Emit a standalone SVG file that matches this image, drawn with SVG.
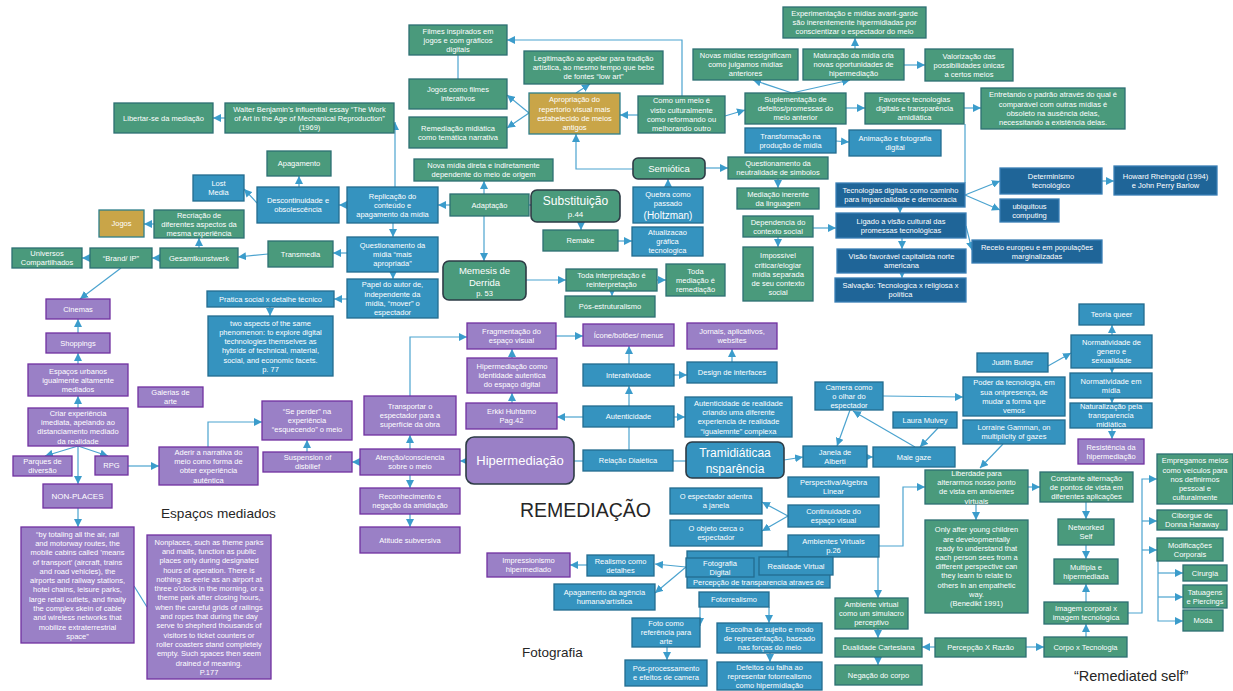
<svg xmlns="http://www.w3.org/2000/svg" width="1233" height="691" viewBox="0 0 1233 691">
<style>
rect{stroke-width:1.3}
.g rect{fill:#4a9a7c;stroke:#2c6f72}
.b rect{fill:#3593bf;stroke:#236c8f}
.d rect{fill:#1f6598;stroke:#3a7fb5}
.p rect{fill:#9a80c6;stroke:#7030a0}
.y rect{fill:#c9a548;stroke:#2e7f8a}
.r rect{stroke:#2d3b45;stroke-width:1.6}
text{font-family:"Liberation Sans",Arial,sans-serif;font-size:7.5px;fill:#fff;text-anchor:middle}
.lbl{fill:#262626;text-anchor:start}
#conn path{fill:none;stroke:#4ba3cf;stroke-width:1.2}
#conn .a{marker-end:url(#ah)}
</style>
<defs>
<marker id="ah" viewBox="0 0 10 10" refX="10" refY="5" markerWidth="8" markerHeight="8" markerUnits="userSpaceOnUse" orient="auto"><path d="M0,0 L10,5 L0,10 z" fill="#3b9ccb"/></marker>
</defs>
<rect width="1233" height="691" fill="#fff"/>

<g id="conn">
<path class="a" d="M225,118 L213,118"/>
<path class="a" d="M395,187 L395,122"/>
<path class="a" d="M347,205 L339,205"/>
<path class="a" d="M257,203 L244,189"/>
<path class="a" d="M299,187 L299,176"/>
<path class="a" d="M154,224 L144,224"/>
<path class="a" d="M199,248 L199,238"/>
<path class="a" d="M268,254 L238,257"/>
<path class="a" d="M160,258 L152,258"/>
<path class="a" d="M90,258 L82,258"/>
<path class="a" d="M121,268 L80,299"/>
<path class="a" d="M78,333 L78,319"/>
<path class="a" d="M78,364 L78,353"/>
<path class="a" d="M78,408 L78,396"/>
<path class="a" d="M78,446 L45,456"/>
<path class="a" d="M78,446 L108,456"/>
<path class="a" d="M78,446 L78,484"/>
<path class="a" d="M78,508 L78,527"/>
<path d="M134,586 L147,607"/>
<path class="a" d="M128,466 L159,466"/>
<path class="a" d="M208,447 L208,422 L262,422"/>
<path class="a" d="M307,452 L307,440"/>
<path class="a" d="M360,462 L352,462"/>
<path class="a" d="M466,461 L460,461"/>
<path class="a" d="M410,449 L410,435"/>
<path class="a" d="M410,475 L410,488"/>
<path class="a" d="M410,514 L410,527"/>
<path class="a" d="M410,396 L410,337 L467,337"/>
<path class="a" d="M556,336 L583,336"/>
<path class="a" d="M512,358 L512,349"/>
<path class="a" d="M512,403 L512,393"/>
<path class="a" d="M583,417 L557,417"/>
<path class="a" d="M629,406 L629,386"/>
<path class="a" d="M629,364 L629,346"/>
<path class="a" d="M674,375 L687,375"/>
<path class="a" d="M732,362 L732,349"/>
<path class="a" d="M674,417 L685,417"/>
<path d="M629,427 L629,450"/>
<path d="M574,461 L583,461"/>
<path d="M673,461 L686,461"/>
<path class="a" d="M784,460 L803,457"/>
<path class="a" d="M867,457 L873,457"/>
<path class="a" d="M850,410 L837,446"/>
<path class="a" d="M915,447 L853,411"/>
<path class="a" d="M938,428 L920,447"/>
<path class="a" d="M883,396 L963,397"/>
<path class="a" d="M1048,366 L1071,353"/>
<path class="a" d="M1112,335 L1112,325"/>
<path class="a" d="M1112,368 L1112,373"/>
<path class="a" d="M1112,398 L1112,403"/>
<path class="a" d="M1112,428 L1112,439"/>
<path class="a" d="M1003,444 L980,468"/>
<path class="a" d="M788,516 L762,502"/>
<path class="a" d="M788,516 L762,531"/>
<path class="a" d="M879,546 L903,546 L903,487 L925,487"/>
<path class="a" d="M878,557 L878,598"/>
<path class="a" d="M878,629 L878,638"/>
<path class="a" d="M878,657 L878,665"/>
<path class="a" d="M935,647 L922,647"/>
<path class="a" d="M1026,647 L1044,647"/>
<path class="a" d="M1086,637 L1086,624"/>
<path class="a" d="M1086,602 L1086,584"/>
<path class="a" d="M1086,545 L1086,559"/>
<path class="a" d="M1086,502 L1086,519"/>
<path class="a" d="M1028,487 L1040,487"/>
<path class="a" d="M976,504 L976,520"/>
<path class="a" d="M1128,613 L1142,613 L1142,479 L1157,479"/>
<path class="a" d="M1142,521 L1157,521"/>
<path class="a" d="M1142,550 L1157,550"/>
<path class="a" d="M1158,561 L1158,621 L1183,621"/>
<path class="a" d="M1158,573 L1183,573"/>
<path class="a" d="M1158,597 L1183,597"/>
<path class="a" d="M686,567 L655,564"/>
<path class="a" d="M686,567 L655,593"/>
<path class="a" d="M587,565 L570,565"/>
<path class="a" d="M700,607 L700,626"/>
<path class="a" d="M769,607 L769,623"/>
<path class="a" d="M667,647 L667,660"/>
<path class="a" d="M770,653 L770,662"/>
<path class="a" d="M526,280 L566,280"/>
<path class="a" d="M657,280 L666,280"/>
<path class="a" d="M612,291 L612,296"/>
<path class="a" d="M618,241 L632,241"/>
<path class="a" d="M581,222 L581,230"/>
<path class="a" d="M540,205 L529,205"/>
<path class="a" d="M450,205 L438,205"/>
<path class="a" d="M484,194 L484,181"/>
<path class="a" d="M484,216 L484,261"/>
<path class="a" d="M393,223 L393,237"/>
<path class="a" d="M347,253 L333,253"/>
<path class="a" d="M393,272 L393,279"/>
<path class="a" d="M347,299 L334,299"/>
<path class="a" d="M270,307 L270,316"/>
<path class="a" d="M529,113 L507,95"/>
<path class="a" d="M529,113 L507,128"/>
<path class="a" d="M576,93 L590,84"/>
<path d="M458,55 L458,79"/>
<path class="a" d="M682,96 L682,40 L507,40"/>
<path class="a" d="M638,115 L620,115"/>
<path class="a" d="M725,116 L745,110"/>
<path class="a" d="M792,93 L753,80"/>
<path class="a" d="M792,93 L850,80"/>
<path class="a" d="M855,49 L855,38"/>
<path class="a" d="M904,65 L925,65"/>
<path class="a" d="M846,108 L865,108"/>
<path class="a" d="M964,108 L981,108"/>
<path d="M965,124 L965,183"/>
<path class="a" d="M836,141 L849,142"/>
<path class="a" d="M633,169 L576,169 L576,134"/>
<path class="a" d="M705,168 L728,168"/>
<path class="a" d="M668,187 L668,179"/>
<path class="a" d="M778,179 L778,188"/>
<path class="a" d="M778,237 L778,247"/>
<path class="a" d="M813,228 L836,228"/>
<path class="a" d="M900,207 L900,213"/>
<path class="a" d="M902,238 L902,249"/>
<path class="a" d="M902,273 L902,278"/>
<path class="a" d="M966,226 L972,250"/>
<path class="a" d="M965,195 L1000,181"/>
<path class="a" d="M965,195 L1000,210"/>
<path class="a" d="M1102,181 L1114,181"/>
</g>

<!-- green nodes -->
<g id="libertar" class="g"><rect x="114" y="103" width="99" height="30"/><text x="163.5" y="120.7">Libertar-se da mediação</text></g>
<g id="walter" class="g"><rect x="225" y="103" width="169" height="30"/><text x="309.5" y="111.5"><tspan x="309.5">Walter Benjamin’s influential essay “The Work</tspan><tspan x="309.5" dy="9.2">of Art in the Age of Mechanical Reproduction”</tspan><tspan x="309.5" dy="9.2">(1969)</tspan></text></g>
<g id="apagamento" class="g"><rect x="267" y="151" width="64" height="25"/><text x="299" y="166.2">Apagamento</text></g>
<g id="recriacao" class="g"><rect x="154" y="210" width="90" height="28"/><text x="199" y="217.5"><tspan x="199">Recriação de</tspan><tspan x="199" dy="9.2">diferentes aspectos da</tspan><tspan x="199" dy="9.2">mesma experiência</tspan></text></g>
<g id="universos" class="g"><rect x="12" y="248" width="70" height="20"/><text x="47" y="256.1"><tspan x="47">Universos</tspan><tspan x="47" dy="9.2">Compartilhados</tspan></text></g>
<g id="brand" class="g"><rect x="90" y="248" width="62" height="20"/><text x="121" y="260.7">“Brand/ IP”</text></g>
<g id="gesamt" class="g"><rect x="160" y="248" width="78" height="20"/><text x="199" y="260.7">Gesamtkunstwerk</text></g>
<g id="transmedia" class="g"><rect x="268" y="241" width="65" height="26"/><text x="300.5" y="256.7">Transmedia</text></g>
<g id="filmes" class="g"><rect x="409" y="25" width="98" height="30"/><text x="458" y="33.5"><tspan x="458">Filmes inspirados em</tspan><tspan x="458" dy="9.2">jogos e com gráficos</tspan><tspan x="458" dy="9.2">digitais</tspan></text></g>
<g id="jogosfilmes" class="g"><rect x="409" y="79" width="98" height="30"/><text x="458" y="92.1"><tspan x="458">Jogos como filmes</tspan><tspan x="458" dy="9.2">interativos</tspan></text></g>
<g id="remediacao" class="g"><rect x="409" y="117" width="98" height="31"/><text x="458" y="130.6"><tspan x="458">Remediação midiática</tspan><tspan x="458" dy="9.2">como temática narrativa</tspan></text></g>
<g id="legitimacao" class="g"><rect x="524" y="51" width="139" height="33"/><text x="593.5" y="61"><tspan x="593.5">Legitimação ao apelar para tradição</tspan><tspan x="593.5" dy="9.2">artística, ao mesmo tempo que bebe</tspan><tspan x="593.5" dy="9.2">de fontes “low art”</tspan></text></g>
<g id="novamidia" class="g"><rect x="414" y="159" width="139" height="22"/><text x="483.5" y="168.1"><tspan x="483.5">Nova mídia direta e indiretamente</tspan><tspan x="483.5" dy="9.2">dependente do meio de origem</tspan></text></g>
<g id="adaptacao" class="g"><rect x="450" y="194" width="79" height="22"/><text x="489.5" y="207.7">Adaptação</text></g>
<g id="substituicao" class="g r"><rect x="531" y="190" width="89" height="32" rx="6"/><text x="575.5" y="205" style="font-size:12px">Substituição</text><text x="575.5" y="217" style="font-size:8px">p.44</text></g>
<g id="remake" class="g"><rect x="543" y="230" width="75" height="21"/><text x="580.5" y="243.2">Remake</text></g>
<g id="memesis" class="g r"><rect x="443" y="261" width="83" height="39" rx="6"/><text x="484.5" y="273.5" style="font-size:9.5px">Memesis de</text><text x="484.5" y="285.8" style="font-size:9.5px">Derrida</text><text x="484.5" y="296">p. 53</text></g>
<g id="todainterp" class="g"><rect x="566" y="269" width="91" height="22"/><text x="611.5" y="278.1"><tspan x="611.5">Toda interpretação é</tspan><tspan x="611.5" dy="9.2">reinterpretação</tspan></text></g>
<g id="todamed" class="g"><rect x="666" y="264" width="59" height="32"/><text x="695.5" y="273.5"><tspan x="695.5">Toda</tspan><tspan x="695.5" dy="9.2">mediação é</tspan><tspan x="695.5" dy="9.2">remediação</tspan></text></g>
<g id="posestr" class="g"><rect x="565" y="296" width="90" height="21"/><text x="610" y="309.2">Pós-estruturalismo</text></g>
<g id="experimentacao" class="g"><rect x="783" y="7" width="143" height="31"/><text x="854.5" y="16"><tspan x="854.5">Experimentação e mídias avant-garde</tspan><tspan x="854.5" dy="9.2">são inerentemente hipermidiadas por</tspan><tspan x="854.5" dy="9.2">conscientizar o espectador do meio</tspan></text></g>
<g id="novasmidias" class="g"><rect x="693" y="49" width="105" height="31"/><text x="745.5" y="58"><tspan x="745.5">Novas mídias ressignificam</tspan><tspan x="745.5" dy="9.2">como julgamos mídias</tspan><tspan x="745.5" dy="9.2">anteriores</tspan></text></g>
<g id="maturacao" class="g"><rect x="803" y="49" width="101" height="31"/><text x="853.5" y="58"><tspan x="853.5">Maturação da mídia cria</tspan><tspan x="853.5" dy="9.2">novas oportunidades de</tspan><tspan x="853.5" dy="9.2">hipermediação</tspan></text></g>
<g id="valorizacao" class="g"><rect x="925" y="49" width="88" height="32"/><text x="969" y="58.5"><tspan x="969">Valorização das</tspan><tspan x="969" dy="9.2">possibilidades únicas</tspan><tspan x="969" dy="9.2">a certos meios</tspan></text></g>
<g id="comoummeio" class="g"><rect x="638" y="96" width="87" height="37"/><text x="681.5" y="103.4"><tspan x="681.5">Como um meio é</tspan><tspan x="681.5" dy="9.2">visto culturalmente</tspan><tspan x="681.5" dy="9.2">como reformando ou</tspan><tspan x="681.5" dy="9.2">melhorando outro</tspan></text></g>
<g id="suplementacao" class="g"><rect x="745" y="93" width="101" height="31"/><text x="795.5" y="102"><tspan x="795.5">Suplementação de</tspan><tspan x="795.5" dy="9.2">defeitos/promessas do</tspan><tspan x="795.5" dy="9.2">meio anterior</tspan></text></g>
<g id="favorece" class="g"><rect x="865" y="93" width="99" height="31"/><text x="914.5" y="102"><tspan x="914.5">Favorece tecnologias</tspan><tspan x="914.5" dy="9.2">digitais e transparência</tspan><tspan x="914.5" dy="9.2">amidiática</tspan></text></g>
<g id="entretando" class="g"><rect x="981" y="88" width="144" height="41"/><text x="1053" y="97.4"><tspan x="1053">Entretando o padrão através do qual é</tspan><tspan x="1053" dy="9.2">comparável com outras mídias é</tspan><tspan x="1053" dy="9.2">obsoleto na ausência delas,</tspan><tspan x="1053" dy="9.2">necessitando a existência delas.</tspan></text></g>
<g id="semiotica" class="g r"><rect x="633" y="158" width="72" height="21" rx="5"/><text x="669" y="172" style="font-size:9.5px">Semiótica</text></g>
<g id="questneutr" class="g"><rect x="728" y="157" width="100" height="22"/><text x="778" y="166.1"><tspan x="778">Questionamento da</tspan><tspan x="778" dy="9.2">neutralidade de simbolos</tspan></text></g>
<g id="mediacaoinerente" class="g"><rect x="737" y="188" width="82" height="21"/><text x="778" y="196.6"><tspan x="778">Mediação inerente</tspan><tspan x="778" dy="9.2">da linguagem</tspan></text></g>
<g id="dependencia" class="g"><rect x="743" y="216" width="70" height="21"/><text x="778" y="224.6"><tspan x="778">Dependencia do</tspan><tspan x="778" dy="9.2">contexto social</tspan></text></g>
<g id="impossivel" class="g"><rect x="743" y="247" width="70" height="54"/><text x="778" y="258.3"><tspan x="778">Impossível</tspan><tspan x="778" dy="9.2">criticar/elogiar</tspan><tspan x="778" dy="9.2">mídia separada</tspan><tspan x="778" dy="9.2">de seu contexto</tspan><tspan x="778" dy="9.2">social</tspan></text></g>
<g id="ambientevirtual" class="g"><rect x="835" y="598" width="73" height="31"/><text x="871.5" y="607"><tspan x="871.5">Ambiente virtual</tspan><tspan x="871.5" dy="9.2">como um simulacro</tspan><tspan x="871.5" dy="9.2">perceptivo</tspan></text></g>
<g id="dualidade" class="g"><rect x="835" y="638" width="87" height="19"/><text x="878.5" y="650.2">Dualidade Cartesiana</text></g>
<g id="negacao" class="g"><rect x="835" y="665" width="87" height="20"/><text x="878.5" y="677.7">Negação do corpo</text></g>
<g id="percepcao" class="g"><rect x="935" y="638" width="91" height="19"/><text x="980.5" y="650.2">Percepção X Razão</text></g>
<g id="corpo" class="g"><rect x="1044" y="637" width="83" height="20"/><text x="1085.5" y="649.7">Corpo x Tecnologia</text></g>
<g id="imagem" class="g"><rect x="1044" y="602" width="84" height="22"/><text x="1086" y="611.1"><tspan x="1086">Imagem corporal x</tspan><tspan x="1086" dy="9.2">imagem tecnologica</tspan></text></g>
<g id="multipla" class="g"><rect x="1054" y="559" width="64" height="25"/><text x="1086" y="569.6"><tspan x="1086">Multipla e</tspan><tspan x="1086" dy="9.2">hipermediada</tspan></text></g>
<g id="networked" class="g"><rect x="1058" y="519" width="56" height="26"/><text x="1086" y="530.1"><tspan x="1086">Networked</tspan><tspan x="1086" dy="9.2">Self</tspan></text></g>
<g id="constante" class="g"><rect x="1040" y="472" width="93" height="30"/><text x="1086.5" y="480.5"><tspan x="1086.5">Constante alternação</tspan><tspan x="1086.5" dy="9.2">de pontos de vista em</tspan><tspan x="1086.5" dy="9.2">diferentes aplicações</tspan></text></g>
<g id="liberdade" class="g"><rect x="925" y="470" width="103" height="34"/><text x="976.5" y="475.9"><tspan x="976.5">Liberdade para</tspan><tspan x="976.5" dy="9.2">alterarmos nosso ponto</tspan><tspan x="976.5" dy="9.2">de vista em ambientes</tspan><tspan x="976.5" dy="9.2">virtuais</tspan></text></g>
<g id="onlyafter" class="g"><rect x="925" y="520" width="103" height="93"/><text x="976.5" y="532.4"><tspan x="976.5">Only after young children</tspan><tspan x="976.5" dy="9.2">are developmentally</tspan><tspan x="976.5" dy="9.2">ready to understand that</tspan><tspan x="976.5" dy="9.2">each person sees from a</tspan><tspan x="976.5" dy="9.2">different perspective can</tspan><tspan x="976.5" dy="9.2">they learn to relate to</tspan><tspan x="976.5" dy="9.2">others in an empathetic</tspan><tspan x="976.5" dy="9.2">way.</tspan><tspan x="976.5" dy="9.2">(Benedikt 1991)</tspan></text></g>
<g id="empregamos" class="g"><rect x="1157" y="454" width="76" height="50"/><text x="1195" y="463.3"><tspan x="1195">Empregamos meios</tspan><tspan x="1195" dy="9.2">como veículos para</tspan><tspan x="1195" dy="9.2">nos definirmos</tspan><tspan x="1195" dy="9.2">pessoal e</tspan><tspan x="1195" dy="9.2">culturalmente</tspan></text></g>
<g id="ciborgue" class="g"><rect x="1157" y="510" width="70" height="20"/><text x="1192" y="518.1"><tspan x="1192">Ciborgue de</tspan><tspan x="1192" dy="9.2">Donna Haraway</tspan></text></g>
<g id="modificacoes" class="g"><rect x="1157" y="538" width="66" height="23"/><text x="1190" y="547.6"><tspan x="1190">Modificações</tspan><tspan x="1190" dy="9.2">Corporais</tspan></text></g>
<g id="cirurgia" class="g"><rect x="1183" y="565" width="44" height="16"/><text x="1205" y="575.7">Cirurgia</text></g>
<g id="tatuagens" class="g"><rect x="1183" y="585" width="44" height="23"/><text x="1205" y="594.6"><tspan x="1205">Tatuagens</tspan><tspan x="1205" dy="9.2">e Piercings</tspan></text></g>
<g id="moda" class="g"><rect x="1183" y="610" width="40" height="21"/><text x="1203" y="623.2">Moda</text></g>

<!-- gold nodes -->
<g id="jogos" class="y"><rect x="99" y="210" width="45" height="27"/><text x="121.5" y="226.2">Jogos</text></g>
<g id="apropriacao" class="y"><rect x="529" y="93" width="91" height="41"/><text x="574.5" y="102.4"><tspan x="574.5">Apropriação do</tspan><tspan x="574.5" dy="9.2">repertorio visual mais</tspan><tspan x="574.5" dy="9.2">estabelecido de meios</tspan><tspan x="574.5" dy="9.2">antigos</tspan></text></g>

<!-- blue nodes -->
<g id="lostmedia" class="b"><rect x="193" y="175" width="51" height="26"/><text x="218.5" y="186.1"><tspan x="218.5">Lost</tspan><tspan x="218.5" dy="9.2">Media</tspan></text></g>
<g id="descontinuidade" class="b"><rect x="257" y="187" width="82" height="36"/><text x="298" y="203.1"><tspan x="298">Descontinuidade e</tspan><tspan x="298" dy="9.2">obsolescência</tspan></text></g>
<g id="replicacao" class="b"><rect x="347" y="187" width="91" height="36"/><text x="392.5" y="198.5"><tspan x="392.5">Replicação do</tspan><tspan x="392.5" dy="9.2">conteúdo e</tspan><tspan x="392.5" dy="9.2">apagamento da mídia</tspan></text></g>
<g id="questmidia" class="b"><rect x="347" y="237" width="91" height="35"/><text x="392.5" y="248"><tspan x="392.5">Questionamento da</tspan><tspan x="392.5" dy="9.2">mídia “mais</tspan><tspan x="392.5" dy="9.2">apropriada”</tspan></text></g>
<g id="papel" class="b"><rect x="347" y="279" width="91" height="39"/><text x="392.5" y="287.4"><tspan x="392.5">Papel do autor de,</tspan><tspan x="392.5" dy="9.2">independente da</tspan><tspan x="392.5" dy="9.2">mídia, “mover” o</tspan><tspan x="392.5" dy="9.2">espectador</tspan></text></g>
<g id="pratica" class="b"><rect x="207" y="291" width="127" height="16"/><text x="270.5" y="301.7">Pratica social x detalhe técnico</text></g>
<g id="twoaspects" class="b"><rect x="208" y="316" width="125" height="60"/><text x="270.5" y="325.7"><tspan x="270.5">two aspects of the same</tspan><tspan x="270.5" dy="9.2">phenomenon: to explore digital</tspan><tspan x="270.5" dy="9.2">technologies themselves as</tspan><tspan x="270.5" dy="9.2">hybrids of technical, material,</tspan><tspan x="270.5" dy="9.2">social, and economic facets.</tspan><tspan x="270.5" dy="9.2">p. 77</tspan></text></g>
<g id="quebra" class="b"><rect x="633" y="187" width="70" height="36"/><text x="668" y="197"><tspan x="668">Quebra como</tspan><tspan x="668" dy="9.4">passado</tspan></text><text x="668" y="218.6" style="font-size:10px">(Holtzman)</text></g>
<g id="atualizacao" class="b"><rect x="632" y="227" width="71" height="29"/><text x="667.5" y="235"><tspan x="667.5">Atualizacao</tspan><tspan x="667.5" dy="9.2">gráfica</tspan><tspan x="667.5" dy="9.2">tecnologica</tspan></text></g>
<g id="transformacao" class="b"><rect x="745" y="128" width="91" height="25"/><text x="790.5" y="138.6"><tspan x="790.5">Transformação na</tspan><tspan x="790.5" dy="9.2">produção de mídia</tspan></text></g>
<g id="animacao" class="b"><rect x="849" y="130" width="92" height="26"/><text x="895" y="141.1"><tspan x="895">Animação e fotografia</tspan><tspan x="895" dy="9.2">digital</tspan></text></g>
<g id="interatividade" class="b"><rect x="583" y="364" width="91" height="22"/><text x="628.5" y="377.7">Interatividade</text></g>
<g id="design" class="b"><rect x="687" y="362" width="90" height="21"/><text x="732" y="375.2">Design de interfaces</text></g>
<g id="autenticidade" class="b"><rect x="583" y="406" width="91" height="21"/><text x="628.5" y="419.2">Autenticidade</text></g>
<g id="autenticidadereal" class="b"><rect x="685" y="397" width="107" height="40"/><text x="738.5" y="405.9"><tspan x="738.5">Autenticidade de realidade</tspan><tspan x="738.5" dy="9.2">criando uma diferente</tspan><tspan x="738.5" dy="9.2">experiencia de realidade</tspan><tspan x="738.5" dy="9.2">“igualemnte” complexa</tspan></text></g>
<g id="relacao" class="b"><rect x="583" y="450" width="90" height="21"/><text x="628" y="463.2">Relação Dialética</text></g>
<g id="tramid" class="b r"><rect x="686" y="442" width="98" height="36" rx="6"/><text x="735" y="457" style="font-size:12px">Tramidiáticaa</text><text x="735" y="473" style="font-size:12px">nsparência</text></g>
<g id="janela" class="b"><rect x="803" y="446" width="64" height="21"/><text x="835" y="454.6"><tspan x="835">Janela de</tspan><tspan x="835" dy="9.2">Alberti</tspan></text></g>
<g id="malegaze" class="b"><rect x="873" y="447" width="82" height="20"/><text x="914" y="459.7">Male gaze</text></g>
<g id="camera" class="b"><rect x="815" y="382" width="68" height="28"/><text x="849" y="389.5"><tspan x="849">Camera como</tspan><tspan x="849" dy="9.2">o olhar do</tspan><tspan x="849" dy="9.2">espectador</tspan></text></g>
<g id="laura" class="b"><rect x="893" y="412" width="64" height="16"/><text x="925" y="422.7">Laura Mulvey</text></g>
<g id="poder" class="b"><rect x="963" y="377" width="102" height="39"/><text x="1014" y="385.4"><tspan x="1014">Poder da tecnologia, em</tspan><tspan x="1014" dy="9.2">sua onipresença, de</tspan><tspan x="1014" dy="9.2">mudar a forma que</tspan><tspan x="1014" dy="9.2">vemos</tspan></text></g>
<g id="lorraine" class="b"><rect x="963" y="420" width="102" height="24"/><text x="1014" y="430.1"><tspan x="1014">Lorraine Gamman, on</tspan><tspan x="1014" dy="9.2">multiplicity of gazes</tspan></text></g>
<g id="judith" class="b"><rect x="977" y="353" width="71" height="19"/><text x="1012.5" y="365.2">Judith Butler</text></g>
<g id="teoria" class="b"><rect x="1079" y="304" width="65" height="21"/><text x="1111.5" y="317.2">Teoria queer</text></g>
<g id="normgenero" class="b"><rect x="1071" y="335" width="81" height="33"/><text x="1111.5" y="345"><tspan x="1111.5">Normatividade de</tspan><tspan x="1111.5" dy="9.2">genero e</tspan><tspan x="1111.5" dy="9.2">sexualidade</tspan></text></g>
<g id="normmidia" class="b"><rect x="1070" y="373" width="82" height="25"/><text x="1111" y="383.6"><tspan x="1111">Normatividade em</tspan><tspan x="1111" dy="9.2">mídia</tspan></text></g>
<g id="naturalizacao" class="b"><rect x="1070" y="403" width="82" height="25"/><text x="1111" y="409"><tspan x="1111">Naturalização pela</tspan><tspan x="1111" dy="9.2">transparencia</tspan><tspan x="1111" dy="9.2">midiática</tspan></text></g>
<g id="perspectiva" class="b"><rect x="788" y="477" width="91" height="20"/><text x="833.5" y="485.1"><tspan x="833.5">Perspectiva/Algebra</tspan><tspan x="833.5" dy="9.2">Linear</tspan></text></g>
<g id="continuidade" class="b"><rect x="788" y="505" width="91" height="22"/><text x="833.5" y="514.1"><tspan x="833.5">Continuidade do</tspan><tspan x="833.5" dy="9.2">espaço visual</tspan></text></g>
<g id="espectadoradentra" class="b"><rect x="670" y="488" width="92" height="26"/><text x="716" y="499.1"><tspan x="716">O espectador adentra</tspan><tspan x="716" dy="9.2">a janela</tspan></text></g>
<g id="objetocerca" class="b"><rect x="670" y="520" width="92" height="26"/><text x="716" y="531.1"><tspan x="716">O objeto cerca o</tspan><tspan x="716" dy="9.2">espectador</tspan></text></g>
<g id="percepcaotransp" class="b"><rect x="687" y="551" width="143" height="37"/><text x="758.5" y="585">Percepção de transparencia atraves de</text></g>
<g id="ambientesvirtuais" class="b"><rect x="788" y="535" width="91" height="22"/><text x="833.5" y="544.1"><tspan x="833.5">Ambientes Virtuais</tspan><tspan x="833.5" dy="9.2">p.26</tspan></text></g>
<g id="realidadevirtual" class="b"><rect x="759" y="557" width="74" height="18"/><text x="796" y="568.7">Realidade Virtual</text></g>
<g id="fotografiadigital" class="b"><rect x="686" y="558" width="68" height="19"/><text x="720" y="565.6"><tspan x="720">Fotografia</tspan><tspan x="720" dy="9.2">Digital</tspan></text></g>
<g id="realismo" class="b"><rect x="587" y="555" width="67" height="21"/><text x="620.5" y="563.6"><tspan x="620.5">Realismo como</tspan><tspan x="620.5" dy="9.2">detalhes</tspan></text></g>
<g id="apagamentoagencia" class="b"><rect x="554" y="584" width="101" height="26"/><text x="604.5" y="595.1"><tspan x="604.5">Apagamento da agência</tspan><tspan x="604.5" dy="9.2">humana/artística</tspan></text></g>
<g id="fotorrealismo" class="b"><rect x="699" y="592" width="70" height="15"/><text x="734" y="602.2">Fotorrealismo</text></g>
<g id="fotocomo" class="b"><rect x="632" y="618" width="68" height="29"/><text x="666" y="626"><tspan x="666">Foto como</tspan><tspan x="666" dy="9.2">referência para</tspan><tspan x="666" dy="9.2">arte</tspan></text></g>
<g id="posprocess" class="b"><rect x="625" y="660" width="82" height="26"/><text x="666" y="671.1"><tspan x="666">Pós-processamento</tspan><tspan x="666" dy="9.2">e efeitos de camera</tspan></text></g>
<g id="escolha" class="b"><rect x="717" y="623" width="105" height="30"/><text x="769.5" y="631.5"><tspan x="769.5">Escolha de sujeito e modo</tspan><tspan x="769.5" dy="9.2">de representação, baseado</tspan><tspan x="769.5" dy="9.2">nas forças do meio</tspan></text></g>
<g id="defeitos" class="b"><rect x="717" y="662" width="105" height="28"/><text x="769.5" y="669.5"><tspan x="769.5">Defeitos ou falha ao</tspan><tspan x="769.5" dy="9.2">representar fotorrealismo</tspan><tspan x="769.5" dy="9.2">como hipermídiação</tspan></text></g>

<!-- dark blue nodes -->
<g id="tecnologias" class="d"><rect x="836" y="183" width="129" height="24"/><text x="900.5" y="193.1"><tspan x="900.5">Tecnologias digitais como caminho</tspan><tspan x="900.5" dy="9.2">para imparcialidade e democracia</tspan></text></g>
<g id="ligado" class="d"><rect x="836" y="213" width="130" height="25"/><text x="901" y="223.6"><tspan x="901">Ligado a visão cultural das</tspan><tspan x="901" dy="9.2">promessas tecnológicas</tspan></text></g>
<g id="visao" class="d"><rect x="837" y="249" width="129" height="24"/><text x="901.5" y="259.1"><tspan x="901.5">Visão favorável capitalista norte</tspan><tspan x="901.5" dy="9.2">americana</tspan></text></g>
<g id="salvacao" class="d"><rect x="835" y="278" width="131" height="24"/><text x="900.5" y="288.1"><tspan x="900.5">Salvação: Tecnologica x religiosa x</tspan><tspan x="900.5" dy="9.2">política</tspan></text></g>
<g id="receio" class="d"><rect x="972" y="240" width="130" height="23"/><text x="1037" y="249.6"><tspan x="1037">Receio europeu e em populações</tspan><tspan x="1037" dy="9.2">marginalizadas</tspan></text></g>
<g id="determinismo" class="d"><rect x="1000" y="168" width="102" height="26"/><text x="1051" y="179.1"><tspan x="1051">Determinismo</tspan><tspan x="1051" dy="9.2">tecnológico</tspan></text></g>
<g id="howard" class="d"><rect x="1114" y="166" width="103" height="29"/><text x="1165.5" y="178.6"><tspan x="1165.5">Howard Rheingold (1994)</tspan><tspan x="1165.5" dy="9.2">e John Perry Barlow</tspan></text></g>
<g id="ubiquitous" class="d"><rect x="1000" y="199" width="59" height="23"/><text x="1029.5" y="208.6"><tspan x="1029.5">ubiquitous</tspan><tspan x="1029.5" dy="9.2">computing</tspan></text></g>

<!-- purple nodes -->
<g id="cinemas" class="p"><rect x="46" y="299" width="64" height="20"/><text x="78" y="311.7">Cinemas</text></g>
<g id="shoppings" class="p"><rect x="46" y="333" width="64" height="20"/><text x="78" y="345.7">Shoppings</text></g>
<g id="espacosurbanos" class="p"><rect x="28" y="364" width="100" height="32"/><text x="78" y="373.5"><tspan x="78">Espaços urbanos</tspan><tspan x="78" dy="9.2">igualmente altamente</tspan><tspan x="78" dy="9.2">mediados</tspan></text></g>
<g id="criar" class="p"><rect x="28" y="408" width="100" height="38"/><text x="78" y="415.9"><tspan x="78">Criar experiência</tspan><tspan x="78" dy="9.2">imediata, apelando ao</tspan><tspan x="78" dy="9.2">distanciamento mediado</tspan><tspan x="78" dy="9.2">da realidade</tspan></text></g>
<g id="galerias" class="p"><rect x="138" y="387" width="65" height="20"/><text x="170.5" y="395.1"><tspan x="170.5">Galerias de</tspan><tspan x="170.5" dy="9.2">arte</tspan></text></g>
<g id="parques" class="p"><rect x="13" y="456" width="59" height="20"/><text x="42.5" y="464.1"><tspan x="42.5">Parques de</tspan><tspan x="42.5" dy="9.2">diversão</tspan></text></g>
<g id="rpg" class="p"><rect x="95" y="456" width="33" height="19"/><text x="111.5" y="468.2">RPG</text></g>
<g id="nonplaces" class="p"><rect x="43" y="484" width="69" height="24"/><text x="77.5" y="498.7" style="font-size:8px">NON-PLACES</text></g>
<g id="quote" class="p"><rect x="21" y="527" width="113" height="116"/><text x="77.5" y="536.6"><tspan x="77.5">“by totaling all the air, rail</tspan><tspan x="77.5" dy="9.3">and motorway routes, the</tspan><tspan x="77.5" dy="9.3">mobile cabins called ’means</tspan><tspan x="77.5" dy="9.3">of transport’ (aircraft, trains</tspan><tspan x="77.5" dy="9.3">and road vehicles), the</tspan><tspan x="77.5" dy="9.3">airports and railway stations,</tspan><tspan x="77.5" dy="9.3">hotel chains, leisure parks,</tspan><tspan x="77.5" dy="9.3">large retail outlets, and finally</tspan><tspan x="77.5" dy="9.3">the complex skein of cable</tspan><tspan x="77.5" dy="9.3">and wireless networks that</tspan><tspan x="77.5" dy="9.3">mobilize extraterrestrial</tspan><tspan x="77.5" dy="9.3">space”</tspan></text></g>
<g id="nonplacesbox" class="p"><rect x="147" y="535" width="124" height="144"/><text x="209" y="544.6"><tspan x="209">Nonplaces, such as theme parks</tspan><tspan x="209" dy="9.3">and malls, function as public</tspan><tspan x="209" dy="9.3">places only during designated</tspan><tspan x="209" dy="9.3">hours of operation. There is</tspan><tspan x="209" dy="9.3">nothing as eerie as an airport at</tspan><tspan x="209" dy="9.3">three o’clock in the morning, or a</tspan><tspan x="209" dy="9.3">theme park after closing hours,</tspan><tspan x="209" dy="9.3">when the careful grids of railings</tspan><tspan x="209" dy="9.3">and ropes that during the day</tspan><tspan x="209" dy="9.3">serve to shepherd thousands of</tspan><tspan x="209" dy="9.3">visitors to ticket counters or</tspan><tspan x="209" dy="9.3">roller coasters stand completely</tspan><tspan x="209" dy="9.3">empty. Such spaces then seem</tspan><tspan x="209" dy="9.3">drained of meaning.</tspan><tspan x="209" dy="9.3">P.177</tspan></text></g>
<g id="seperder" class="p"><rect x="262" y="401" width="90" height="39"/><text x="307" y="414"><tspan x="307">“Se perder” na</tspan><tspan x="307" dy="9.2">experiência</tspan><tspan x="307" dy="9.2">“esquecendo” o meio</tspan></text></g>
<g id="aderir" class="p"><rect x="159" y="447" width="99" height="38"/><text x="208.5" y="454.9"><tspan x="208.5">Aderir a narrativa do</tspan><tspan x="208.5" dy="9.2">meio como forma de</tspan><tspan x="208.5" dy="9.2">obter experiência</tspan><tspan x="208.5" dy="9.2">autêntica</tspan></text></g>
<g id="suspension" class="p"><rect x="263" y="452" width="89" height="20"/><text x="307.5" y="460.1"><tspan x="307.5">Suspension of</tspan><tspan x="307.5" dy="9.2">disbilief</tspan></text></g>
<g id="transportar" class="p"><rect x="364" y="396" width="92" height="39"/><text x="410" y="409"><tspan x="410">Transportar o</tspan><tspan x="410" dy="9.2">espectador para a</tspan><tspan x="410" dy="9.2">superfície da obra</tspan></text></g>
<g id="atencao" class="p"><rect x="360" y="449" width="100" height="26"/><text x="410" y="460.1"><tspan x="410">Atenção/consciencia</tspan><tspan x="410" dy="9.2">sobre o meio</tspan></text></g>
<g id="reconhecimento" class="p"><rect x="360" y="488" width="100" height="26"/><text x="410" y="499.1"><tspan x="410">Reconhecimento e</tspan><tspan x="410" dy="9.2">negação da amidiação</tspan></text></g>
<g id="atitude" class="p"><rect x="360" y="527" width="100" height="26"/><text x="410" y="542.7">Atitude subversiva</text></g>
<g id="hipermediacao" class="p r"><rect x="466" y="437" width="108" height="47" rx="8"/><text x="520" y="465" style="font-size:13px">Hipermediação</text></g>
<g id="fragmentacao" class="p"><rect x="467" y="323" width="89" height="26"/><text x="511.5" y="334.1"><tspan x="511.5">Fragmentação do</tspan><tspan x="511.5" dy="9.2">espaço visual</tspan></text></g>
<g id="hipercomo" class="p"><rect x="467" y="358" width="90" height="35"/><text x="512" y="369"><tspan x="512">Hipermediação como</tspan><tspan x="512" dy="9.2">identidade autentica</tspan><tspan x="512" dy="9.2">do espaço digital</tspan></text></g>
<g id="erkki" class="p"><rect x="466" y="403" width="91" height="26"/><text x="511.5" y="414.1"><tspan x="511.5">Erkki Huhtamo</tspan><tspan x="511.5" dy="9.2">Pag.42</tspan></text></g>
<g id="icone" class="p"><rect x="583" y="324" width="91" height="22"/><text x="628.5" y="337.7">Ícone/botões/ menus</text></g>
<g id="jornais" class="p"><rect x="687" y="323" width="90" height="26"/><text x="732" y="334.1"><tspan x="732">Jornais, aplicativos,</tspan><tspan x="732" dy="9.2">websites</tspan></text></g>
<g id="impressionismo" class="p"><rect x="487" y="553" width="83" height="24"/><text x="528.5" y="563.1"><tspan x="528.5">Impressionismo</tspan><tspan x="528.5" dy="9.2">hipermediado</tspan></text></g>
<g id="resistencia" class="p"><rect x="1078" y="439" width="66" height="25"/><text x="1111" y="449.6"><tspan x="1111">Resistência da</tspan><tspan x="1111" dy="9.2">hipermediação</tspan></text></g>

<!-- section labels -->
<text class="lbl" x="520" y="517" style="font-size:20px" textLength="131" lengthAdjust="spacingAndGlyphs">REMEDIAÇÃO</text>
<text class="lbl" x="161" y="518" style="font-size:13.6px">Espaços mediados</text>
<text class="lbl" x="522" y="657" style="font-size:13.5px">Fotografia</text>
<text class="lbl" x="1074" y="681" style="font-size:14.5px">“Remediated self”</text>
</svg>
